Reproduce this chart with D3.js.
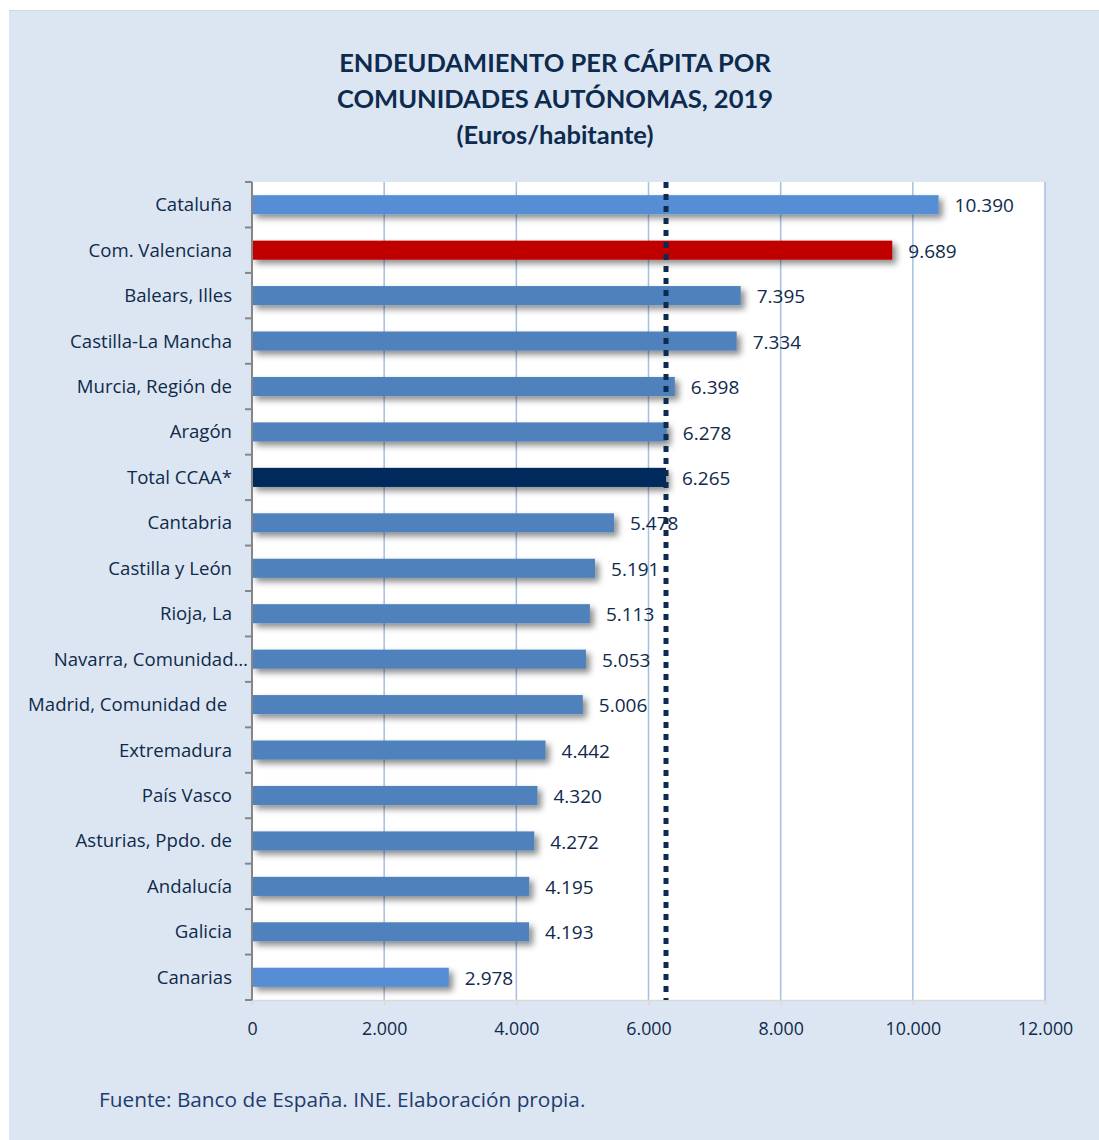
<!DOCTYPE html>
<html><head><meta charset="utf-8">
<script src="https://cdn.jsdelivr.net/npm/d3@7"></script>
<style>
html,body{margin:0;padding:0;background:#fff;}
svg{display:block;}
text{font-family:"Open Sans",Lato,sans-serif;}
</style></head>
<body><svg id="c" width="1099" height="1140"></svg>
<script>
const categories = ["Cataluña","Com. Valenciana","Balears, Illes","Castilla-La Mancha","Murcia, Región de","Aragón","Total CCAA*","Cantabria","Castilla y León","Rioja, La","Navarra, Comunidad…","Madrid, Comunidad de\u00a0","Extremadura","País Vasco","Asturias, Ppdo. de","Andalucía","Galicia","Canarias"];
const values = [10390,9689,7395,7334,6398,6278,6265,5478,5191,5113,5053,5006,4442,4320,4272,4195,4193,2978];
const barColors = ["#558ed5","#c00000","#4f81bd","#4f81bd","#4f81bd","#4f81bd","#002b5c","#4f81bd","#4f81bd","#4f81bd","#4f81bd","#4f81bd","#4f81bd","#4f81bd","#4f81bd","#4f81bd","#4f81bd","#558ed5"];
const xTicks = [0,2000,4000,6000,8000,10000,12000];
const totalValue = 6265;
const titleLines = ["ENDEUDAMIENTO PER CÁPITA POR","COMUNIDADES AUTÓNOMAS, 2019","(Euros/habitante)"];
const sourceText = "Fuente: Banco de España. INE. Elaboración propia.";

const fmt = v => d3.format(",")(v).replace(/,/g, ".");
const svg = d3.select("#c");
const navy = "#0f2a4a";

// background
svg.append("rect").attr("x",9).attr("y",10).attr("width",1090).attr("height",1130)
  .attr("fill","#dce6f2");
svg.append("line").attr("x1",9).attr("x2",1099).attr("y1",10.5).attr("y2",10.5).attr("stroke","#d0d7e0");

const defs = svg.append("defs");
const f = defs.append("filter").attr("id","sh").attr("x","-5%").attr("y","-50%").attr("width","115%").attr("height","250%");
f.append("feDropShadow").attr("dx",4).attr("dy",4).attr("stdDeviation",3).attr("flood-color","#000").attr("flood-opacity",0.45);

// title
svg.append("g").selectAll("text").data(titleLines).join("text")
  .attr("x",555).attr("y",(d,i)=>72+i*36).attr("text-anchor","middle")
  .attr("font-size",25.5).attr("font-weight",700).attr("fill","#0d2b4e")
  .style("font-family","Lato,'Open Sans',sans-serif")
  .text(d=>d);

const L=252, R=1045, T=182, B=1000;
const x = d3.scaleLinear().domain([0,12000]).range([L,R]);
const y = d3.scaleBand().domain(categories).range([T,B]).paddingInner(0.58).paddingOuter(0.29);

svg.append("rect").attr("x",L).attr("y",T).attr("width",R-L).attr("height",B-T).attr("fill","#fff");

// gridlines
svg.append("g").selectAll("line").data(xTicks.slice(1)).join("line")
  .attr("x1",d=>x(d)).attr("x2",d=>x(d)).attr("y1",T).attr("y2",B)
  .attr("stroke","#a6bfdf").attr("stroke-width",1.5);

// x axis
const xa = svg.append("g").attr("transform",`translate(0,${B})`)
  .call(d3.axisBottom(x).tickValues(xTicks).tickFormat(fmt).tickSize(5).tickPadding(17));
xa.select(".domain").attr("stroke","#d9d9d9").attr("stroke-width",1.5);
xa.selectAll(".tick line").attr("stroke","#d9d9d9").attr("stroke-width",1.5);
xa.selectAll(".tick text").attr("fill",navy).attr("font-size",17.8).attr("font-family","'Open Sans',Lato,sans-serif");

// bars
svg.append("g").selectAll("rect").data(values).join("rect")
  .attr("x",x(0)).attr("y",(d,i)=>y(categories[i]))
  .attr("width",d=>x(d)-x(0)).attr("height",y.bandwidth())
  .attr("fill",(d,i)=>barColors[i]).attr("filter","url(#sh)");

// y axis
const step = (B-T)/categories.length;
const ya = svg.append("g");
ya.append("line").attr("x1",L).attr("x2",L).attr("y1",T).attr("y2",B).attr("stroke","#868686").attr("stroke-width",2);
ya.selectAll("line.t").data(d3.range(categories.length+1)).join("line").attr("class","t")
  .attr("x1",L-7).attr("x2",L).attr("y1",i=>T+i*step).attr("y2",i=>T+i*step)
  .attr("stroke","#868686").attr("stroke-width",2);
ya.selectAll("text").data(categories).join("text")
  .attr("x",d=>d.endsWith("…")?248:232).attr("y",d=>y(d)+y.bandwidth()/2).attr("dy","0.35em")
  .attr("text-anchor","end").attr("font-size",18.6).attr("fill",navy)
  .style("white-space","pre").text(d=>d);

// total line
svg.append("line").attr("x1",x(totalValue)).attr("x2",x(totalValue)).attr("y1",T).attr("y2",B)
  .attr("stroke","#0d2b4e").attr("stroke-width",5).attr("stroke-dasharray","6,6");

// value labels
svg.append("g").selectAll("text").data(values).join("text")
  .attr("x",d=>x(d)+16).attr("y",(d,i)=>y(categories[i])+y.bandwidth()/2).attr("dy","0.4em")
  .attr("font-size",19).attr("fill",navy).text(fmt);

// source
svg.append("text").attr("x",99).attr("y",1107).attr("font-size",20.8).attr("fill","#1f3c6e").text(sourceText);
</script></body></html>
